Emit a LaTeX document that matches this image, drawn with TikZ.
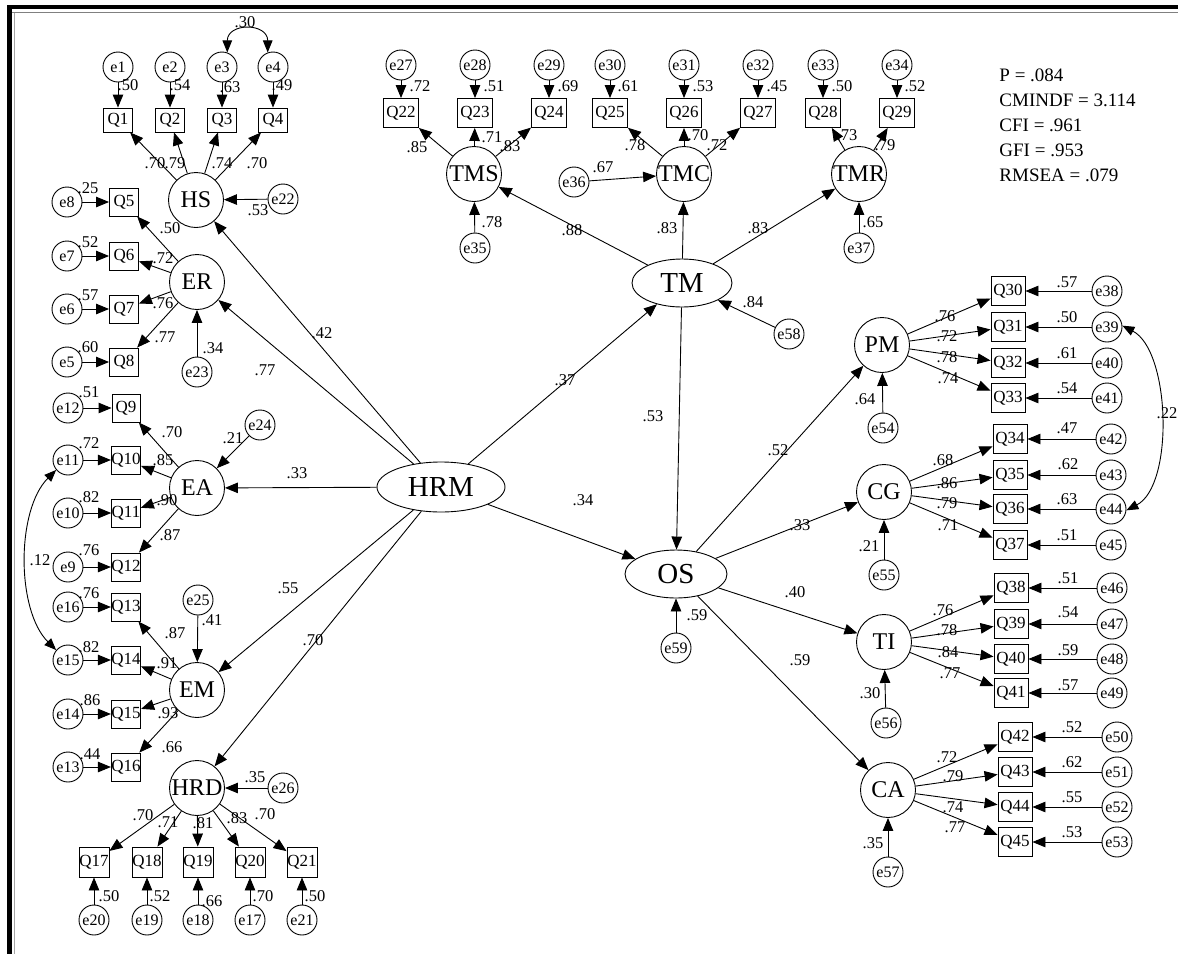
\documentclass[tikz,border=0pt]{standalone}
\usepackage{fontspec}
\setmainfont{Liberation Serif}
\usetikzlibrary{arrows.meta,shapes.geometric}
\newcount\lc
\newcommand\lb[2]{\global\advance\lc by 1\relax\node[lab] (lb\the\lc) at (#1) {#2};}
\tikzset{
  box/.style n args={2}{draw, rectangle, inner sep=0pt, minimum width=#1pt, minimum height=#2pt, font=\fontsize{17}{17}\selectfont},
  err/.style={draw, circle, inner sep=0pt, minimum size=30pt, font=\fontsize{16}{16}\selectfont},
  lat/.style={draw, circle, inner sep=0pt, minimum size=55pt, font=\fontsize{24}{24}\selectfont},
  elat/.style n args={2}{draw, ellipse, inner sep=0pt, minimum width=#1pt, minimum height=#2pt, font=\fontsize{29}{29}\selectfont},
  arr/.style={-{Triangle[length=13pt,width=10.5pt]}},
  dbl/.style={{Triangle[length=12pt,width=9.5pt]}-{Triangle[length=12pt,width=9.5pt]}},
  lab/.style={inner sep=0pt, font=\fontsize{16.5}{16.5}\selectfont},
}
\begin{document}
\begin{tikzpicture}[x=1pt,y=-1pt,line width=0.9pt]
\useasboundingbox (0,0) rectangle (1178,954);
\fill[white] (0,0) rectangle (1178,954);
% frame
\fill[black] (7,4.5) rectangle (1178,8.5);
\fill[black] (7,4.5) rectangle (12,954);
\draw[line width=1pt,gray] (12,12.5) -- (1178,12.5);
\draw[line width=0.8pt,gray!70] (14,12.5) -- (14,954);

% ---------- central latents
\node[elat={128}{50}] (HRM) at (441,487) {HRM};
\node[elat={100}{48}] (TM) at (682,283) {TM};
\node[elat={102}{48}] (OS) at (676,574) {OS};
\node[err] (e58) at (789,334) {e58};
\node[err] (e59) at (676,648) {e59};
\draw[arr] (e58) -- (TM);
\draw[arr] (e59) -- (OS);
\draw[arr] (HRM) -- (TM);
\draw[arr] (HRM) -- (OS);
\draw[arr] (TM) -- (OS);

% ---------- HS
\node[lat] (HS) at (196,200) {HS};
\foreach \i/\x in {1/118,2/170,3/222,4/273}{
  \node[err] (e\i) at (\x,67) {e\i};
  \node[box={29}{24}] (Q\i) at (\x,120) {Q\i};
  \draw[arr] (e\i) -- (Q\i);
  \draw[arr] (HS) -- (Q\i);
}
\node[err] (e22) at (283,199) {e22};
\draw[arr] (e22) -- (HS);
\draw[dbl] (e3.70) .. controls +(0,-30) and +(0,-30) .. (e4.110);

% ---------- ER
\node[lat] (ER) at (197,282) {ER};
\foreach \e/\q/\y in {8/5/202,7/6/256,6/7/309,5/8/362}{
  \node[err] (e\e) at (67,\y) {e\e};
  \node[box={29}{28}] (Q\q) at (124,\y) {Q\q};
  \draw[arr] (e\e) -- (Q\q);
  \draw[arr] (ER) -- (Q\q);
}
\node[err] (e23) at (197,372) {e23};
\draw[arr] (e23) -- (ER);

% ---------- EA
\node[lat] (EA) at (197,488) {EA};
\foreach \e/\q/\y in {12/9/408,11/10/460,10/11/513,9/12/567}{
  \node[err] (e\e) at (68,\y) {e\e};
  \node[box={28}{28}] (Q\q) at (126,\y) {Q\q};
  \draw[arr] (e\e) -- (Q\q);
  \draw[arr] (EA) -- (Q\q);
}
\node[err] (e24) at (260,425) {e24};
\draw[arr] (e24) -- (EA);

% ---------- EM
\node[lat] (EM) at (197,690) {EM};
\foreach \e/\q/\y in {16/13/607,15/14/660,14/15/714,13/16/767}{
  \node[err] (e\e) at (68,\y) {e\e};
  \node[box={28}{28}] (Q\q) at (126,\y) {Q\q};
  \draw[arr] (e\e) -- (Q\q);
  \draw[arr] (EM) -- (Q\q);
}
\node[err] (e25) at (198,600) {e25};
\draw[arr] (e25) -- (EM);
\draw[dbl] (e11.220) .. controls +(-40,40) and +(-40,-40) .. (e15.140);

% ---------- HRD
\node[lat] (HRD) at (197,788) {HRD};
\foreach \e/\q/\x in {20/17/94,19/18/147,18/19/198,17/20/250,21/21/302}{
  \node[err] (e\e) at (\x,920) {e\e};
  \node[box={30}{30}] (Q\q) at (\x,862) {Q\q};
  \draw[arr] (e\e) -- (Q\q);
  \draw[arr] (HRD) -- (Q\q);
}
\node[err] (e26) at (283,788) {e26};
\draw[arr] (e26) -- (HRD);

% HRM -> first order
\foreach \t in {HS,ER,EA,EM,HRD} \draw[arr] (HRM) -- (\t);

% ---------- TM first order
\node[lat] (TMS) at (474,174) {TMS};
\node[lat] (TMC) at (684,174) {TMC};
\node[lat] (TMR) at (859,174) {TMR};
\foreach \e/\q/\x/\l in {27/22/401/TMS,28/23/475/TMS,29/24/549/TMS,30/25/610/TMC,31/26/684/TMC,32/27/758/TMC,33/28/823/TMR,34/29/897/TMR}{
  \node[err] (e\e) at (\x,65) {e\e};
  \node[box={35}{29}] (Q\q) at (\x,113) {Q\q};
  \draw[arr] (e\e) -- (Q\q);
  \draw[arr] (\l) -- (Q\q);
}
\node[err] (e35) at (475,248) {e35};
\node[err] (e36) at (574,182) {e36};
\node[err] (e37) at (859,248) {e37};
\draw[arr] (e35) -- (TMS);
\draw[arr] (e36) -- (TMC);
\draw[arr] (e37) -- (TMR);
\draw[arr] (TM) -- (TMS);
\draw[arr] (TM) -- (TMC);
\draw[arr] (TM) -- (TMR);

% ---------- OS first order
\node[lat] (PM) at (882,345) {PM};
\node[lat] (CG) at (884,492) {CG};
\node[lat] (TI) at (884,642) {TI};
\node[lat] (CA) at (888,790) {CA};
\foreach \e/\q/\y/\qx/\ex/\l in {38/30/291/1008/1107/PM,39/31/327/1008/1107/PM,40/32/363/1008/1107/PM,41/33/398/1008/1107/PM,
  42/34/439/1010/1111/CG,43/35/475/1010/1111/CG,44/36/509/1010/1111/CG,45/37/545/1010/1111/CG,
  46/38/588/1011/1112/TI,47/39/624/1011/1112/TI,48/40/659/1011/1112/TI,49/41/693/1011/1112/TI,
  50/42/737/1015/1117/CA,51/43/772/1015/1117/CA,52/44/807/1015/1117/CA,53/45/842/1015/1117/CA}{
  \node[err] (e\e) at (\ex,\y) {e\e};
  \node[box={34}{29}] (Q\q) at (\qx,\y) {Q\q};
  \draw[arr] (e\e) -- (Q\q);
  \draw[arr] (\l) -- (Q\q);
}
\node[err] (e54) at (883,428) {e54};
\node[err] (e55) at (884,575) {e55};
\node[err] (e56) at (886,723) {e56};
\node[err] (e57) at (888,872) {e57};
\draw[arr] (e54) -- (PM);
\draw[arr] (e55) -- (CG);
\draw[arr] (e56) -- (TI);
\draw[arr] (e57) -- (CA);
\foreach \t in {PM,CG,TI,CA} \draw[arr] (OS) -- (\t);
\draw[dbl] (e39.5) .. controls +(48,25) and +(48,-25) .. (e44.355);

% ---------- fit statistics
\node[anchor=north west, align=left, inner sep=0pt, font=\fontsize{19}{25}\selectfont] (fit) at (999,68) {P = .084\\CMINDF = 3.114\\CFI = .961\\GFI = .953\\RMSEA = .079};

% ---------- labels
\lb{128,85}{.50}\lb{180,85}{.54}\lb{230,87}{.63}\lb{282,85}{.49}
\lb{155,163}{.70}\lb{175,163}{.79}\lb{222,163}{.74}\lb{257,163}{.70}\lb{258,210}{.53}\lb{245,22}{.30}
\lb{88,188}{.25}\lb{88,242}{.52}\lb{88,295}{.57}\lb{88,347}{.60}
\lb{170,228}{.50}\lb{163,258}{.72}\lb{163,303}{.76}\lb{165,337}{.77}\lb{213,348}{.34}
\lb{89,392}{.51}\lb{89,443}{.72}\lb{89,497}{.82}\lb{89,550}{.76}
\lb{172,432}{.70}\lb{163,460}{.85}\lb{167,500}{.90}\lb{170,535}{.87}\lb{233,438}{.21}\lb{40,560}{.12}
\lb{89,593}{.76}\lb{89,647}{.82}\lb{90,700}{.86}\lb{90,754}{.44}
\lb{175,633}{.87}\lb{167,663}{.91}\lb{168,713}{.93}\lb{172,747}{.66}\lb{212,620}{.41}
\lb{255,777}{.35}\lb{143,815}{.70}\lb{168,822}{.71}\lb{203,823}{.81}\lb{237,818}{.83}\lb{265,814}{.70}
\lb{109,896}{.50}\lb{160,896}{.52}\lb{212,901}{.66}\lb{263,896}{.70}\lb{315,896}{.50}
\lb{322,333}{.42}\lb{265,370}{.77}\lb{297,473}{.33}\lb{288,588}{.55}\lb{313,640}{.70}
\lb{420,86}{.72}\lb{494,86}{.51}\lb{568,86}{.69}\lb{628,86}{.61}\lb{703,86}{.53}\lb{777,86}{.45}\lb{842,86}{.50}\lb{915,86}{.52}
\lb{417,147}{.85}\lb{492,137}{.71}\lb{510,146}{.83}\lb{635,145}{.78}\lb{698,135}{.70}\lb{717,145}{.72}\lb{847,135}{.73}\lb{885,145}{.79}
\lb{492,222}{.78}\lb{603,167}{.67}\lb{873,222}{.65}\lb{572,230}{.88}\lb{667,228}{.83}\lb{758,228}{.83}\lb{753,302}{.84}
\lb{565,380}{.37}\lb{653,416}{.53}\lb{583,500}{.34}\lb{778,450}{.52}\lb{800,525}{.33}\lb{795,592}{.40}\lb{800,660}{.59}\lb{697,615}{.59}
\lb{945,316}{.76}\lb{947,336}{.72}\lb{947,357}{.78}\lb{948,378}{.74}
\lb{1067,282}{.57}\lb{1067,317}{.50}\lb{1067,353}{.61}\lb{1067,388}{.54}\lb{865,399}{.64}
\lb{943,460}{.68}\lb{947,483}{.86}\lb{947,503}{.79}\lb{948,525}{.71}
\lb{1067,428}{.47}\lb{1068,464}{.62}\lb{1067,499}{.63}\lb{1067,535}{.51}\lb{869,546}{.21}
\lb{943,610}{.76}\lb{947,630}{.78}\lb{948,652}{.84}\lb{950,673}{.77}
\lb{1068,578}{.51}\lb{1068,612}{.54}\lb{1068,650}{.59}\lb{1068,685}{.57}\lb{870,693}{.30}
\lb{947,757}{.72}\lb{953,776}{.79}\lb{953,807}{.74}\lb{955,827}{.77}
\lb{1072,727}{.52}\lb{1072,762}{.62}\lb{1072,797}{.55}\lb{1072,832}{.53}\lb{873,843}{.35}
\lb{1167,413}{.22}
\end{tikzpicture}
\end{document}
